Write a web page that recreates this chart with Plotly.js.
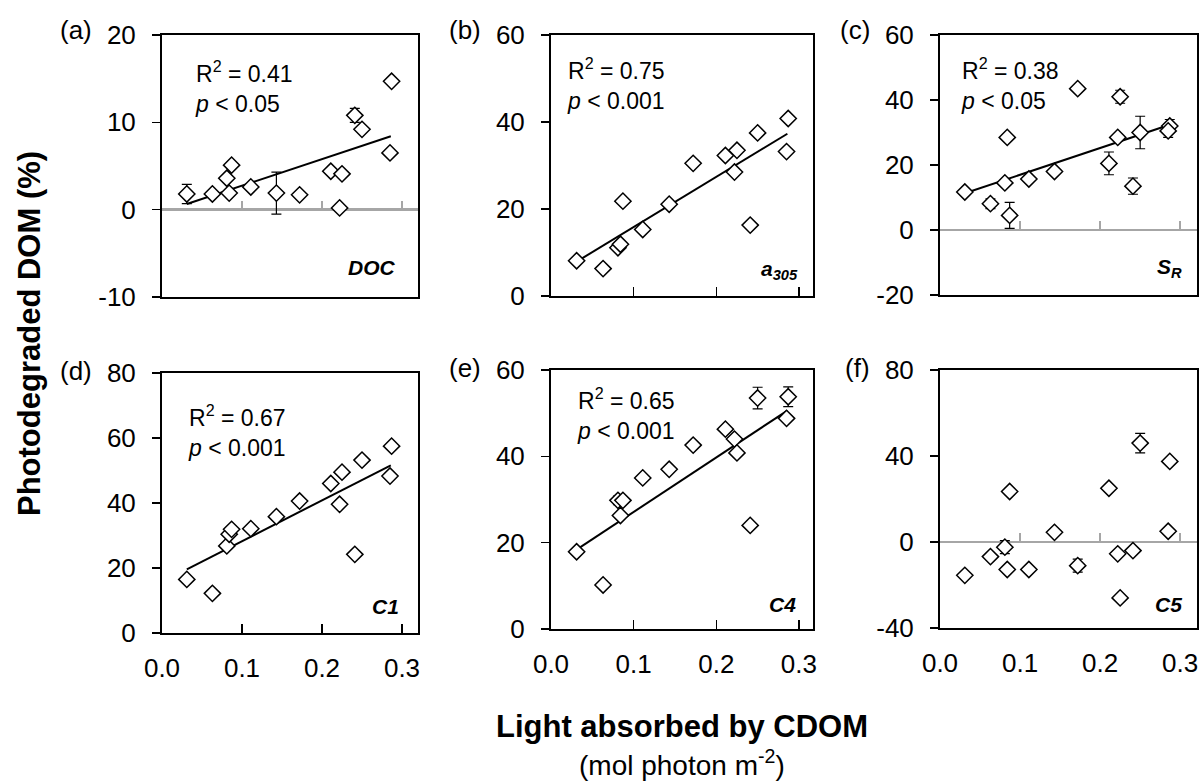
<!DOCTYPE html>
<html><head><meta charset="utf-8">
<script src="https://cdn.plot.ly/plotly-3.0.1.min.js"></script>
<style>html,body{margin:0;padding:0;background:#fff}#chart{width:1203px;height:784px}</style>
</head><body><div id="chart"></div>
<script>
// Light absorbed by CDOM (mol photon m-2), one value per sample
const xLight = [0.031, 0.063, 0.081, 0.084, 0.087, 0.111, 0.143, 0.172, 0.211, 0.222, 0.225, 0.241, 0.250, 0.287, 0.285];
// Photodegraded DOM (%) for each parameter
const yDOC  = [1.8, 1.8, 3.6, 1.9, 5.1, 2.6, 1.9, 1.7, 4.4, 0.2, 4.1, 10.8, 9.2, 14.7, 6.5];
const errDOC = [1.1, 0, 0, 0, 0, 0, 2.4, 0, 0, 0, 0, 0.8, 0, 0, 0];
const yA305 = [8.1, 6.3, 11.1, 11.9, 21.8, 15.3, 21.1, 30.5, 32.3, 28.5, 33.5, 16.3, 37.5, 40.8, 33.2];
const errA305 = [0, 0, 0, 0, 0, 0, 0, 0, 0, 0, 0, 0, 0, 0, 0];
const ySR   = [11.7, 8.1, 14.5, 28.5, 4.5, 15.7, 18.0, 43.5, 20.5, 28.5, 41.0, 13.5, 30.0, 32.0, 30.5];
const errSR = [0, 1.5, 0, 0, 4.0, 0, 0, 0, 3.5, 0, 2.0, 2.5, 5.0, 2.0, 2.0];
const yC1   = [16.5, 12.2, 26.8, 30.4, 31.9, 32.1, 35.8, 40.6, 46.0, 39.6, 49.5, 24.2, 53.2, 57.5, 48.3];
const errC1 = [0, 0, 0, 0, 0, 0, 0, 0, 0, 0, 0, 0, 0, 0, 0];
const yC4   = [17.9, 10.2, 29.8, 26.3, 29.8, 35.0, 37.0, 42.6, 46.3, 44.0, 40.8, 24.0, 53.5, 53.8, 48.8];
const errC4 = [0, 0, 1.0, 0, 0, 0, 0, 0, 0, 0, 0, 0, 2.5, 2.3, 0];
const yC5   = [-15.5, -6.8, -2.4, -12.8, 23.5, -12.8, 4.5, -11.0, 25.0, -5.5, -26.0, -4.0, 46.0, 37.5, 5.0];
const errC5 = [0, 0, 3.0, 0, 1.5, 0, 0, 3.0, 0, 0, 0, 0, 4.5, 0, 0];
// Regression line end points
const trendX = [0.031, 0.286];
const trendDOC = [0.65, 8.4];
const trendA305 = [7.9, 37.3];
const trendSR = [11.3, 32.3];
const trendC1 = [19.6, 51.6];
const trendC4 = [18.4, 50.6];
// Axis ticks and labels
const xTicks = [0, 0.1, 0.2, 0.3];
const xTickLabels = ['0.0', '0.1', '0.2', '0.3'];
const yTicksDOC = [-10, 0, 10, 20];
const yTicksA305 = [0, 20, 40, 60];
const yTicksSR = [-20, 0, 20, 40, 60];
const yTicksC1 = [0, 20, 40, 60, 80];
const yTicksC4 = [0, 20, 40, 60];
const yTicksC5 = [-40, 0, 40, 80];
const yRanges = [[-10, 20], [0, 60], [-20, 60], [0, 80], [0, 60], [-40, 80]];
// Text
const letters = ['(a)', '(b)', '(c)', '(d)', '(e)', '(f)'];
const names = ['<b><i>DOC</i></b>', '<b><i>a</i></b><sub><b><i>305</i></b></sub>', '<b><i>S</i></b><sub><b><i>R</i></b></sub>', '<b><i>C1</i></b>', '<b><i>C4</i></b>', '<b><i>C5</i></b>'];
const r2 = ['0.41', '0.75', '0.38', '0.67', '0.65', null];
const pv = ['0.05', '0.001', '0.05', '0.001', '0.001', null];

const W = 1203, H = 784;
const FONT = '"Liberation Sans", Arial, sans-serif';
const ys = [yDOC, yA305, ySR, yC1, yC4, yC5];
const errs = [errDOC, errA305, errSR, errC1, errC4, errC5];
const trends = [trendDOC, trendA305, trendSR, trendC1, trendC4, null];
const yTicks = [yTicksDOC, yTicksA305, yTicksSR, yTicksC1, yTicksC4, yTicksC5];
// layout geometry (pixels): [left, right, top, bottom]
const boxes = [[162, 418, 35, 297], [551, 813, 35, 296], [940, 1197, 35, 295],
               [162, 418, 373, 633], [551, 813, 370, 629], [940, 1197, 370, 628]];
const xRanges = [[0, 0.32], [0, 0.317], [0, 0.321], [0, 0.32], [0, 0.317], [0, 0.321]];
const statPos = [[193, 87], [565, 84], [959, 84], [186, 431], [575, 414], null];
const namePos = [[398, 267], [800, 270], [1184, 268], [401, 606], [798, 604], [1184, 604]];

const data = [];
const layout = {
  width: W, height: H, margin: {l: 0, r: 0, t: 0, b: 0},
  paper_bgcolor: '#fff', plot_bgcolor: 'rgba(0,0,0,0)', showlegend: false,
  font: {family: FONT, color: '#000', size: 24},
  annotations: []
};
let overlayId = 7;
for (let i = 0; i < 6; i++) {
  const xid = i === 0 ? 'x' : 'x' + (i + 1);
  const yid = i === 0 ? 'y' : 'y' + (i + 1);
  const xk = i === 0 ? 'xaxis' : 'xaxis' + (i + 1);
  const yk = i === 0 ? 'yaxis' : 'yaxis' + (i + 1);
  const b = boxes[i];
  const xd = [b[0] / W, b[1] / W];
  const yd = [1 - b[3] / H, 1 - b[2] / H];
  const yr = yRanges[i];
  const crosses = yr[0] < 0;
  const bottom = i >= 3;
  layout[xk] = {
    domain: xd, range: xRanges[i], anchor: yid,
    showline: true, mirror: true, linecolor: '#000', linewidth: 2,
    showgrid: false, zeroline: false,
    ticks: crosses ? '' : 'inside', ticklen: 9, tickwidth: 1.5, tickcolor: '#000',
    tickmode: 'array', tickvals: xTicks, ticktext: xTickLabels,
    showticklabels: bottom, tickfont: {size: 26, family: FONT, color: '#000'},
    ticklabelstandoff: 11
  };
  layout[yk] = {
    domain: yd, range: yr, anchor: xid,
    showline: true, mirror: true, linecolor: '#000', linewidth: 2,
    showgrid: false, zeroline: crosses, zerolinecolor: '#a6a6a6', zerolinewidth: 2.5,
    ticks: 'outside', ticklen: 8, tickwidth: 1.5, tickcolor: '#000',
    tickmode: 'array', tickvals: yTicks[i], ticktext: yTicks[i].map(v => String(v)),
    tickfont: {size: 26, family: FONT, color: '#000'},
    ticklabelstandoff: 11
  };
  if (trends[i]) {
    data.push({x: trendX, y: trends[i], xaxis: xid, yaxis: yid, mode: 'lines',
      line: {color: '#000', width: 2}, hoverinfo: 'skip'});
  }
  data.push({x: xLight, y: ys[i], xaxis: xid, yaxis: yid, mode: 'markers',
    marker: {symbol: 'diamond', size: 12.5, color: '#fff', line: {color: '#000', width: 1.5}},
    error_y: {type: 'data', array: errs[i], visible: true, color: '#000', thickness: 1.2, width: 5}});
  if (crosses) {
    const oid = 'x' + overlayId;
    const ok = 'xaxis' + overlayId;
    overlayId++;
    const pos = yd[0] + (0 - yr[0]) / (yr[1] - yr[0]) * (yd[1] - yd[0]);
    layout[ok] = {
      overlaying: xid, anchor: 'free', position: pos, domain: xd, range: xRanges[i],
      showline: false, showgrid: false, zeroline: false,
      ticks: 'inside', ticklen: 9, tickwidth: 2, tickcolor: '#a6a6a6',
      tickmode: 'array', tickvals: xTicks, showticklabels: false
    };
    data.push({x: xLight, y: ys[i], xaxis: oid, yaxis: yid, mode: 'markers',
      marker: {opacity: 0, size: 1}, hoverinfo: 'skip'});
  }
  // panel letter
  layout.annotations.push({xref: 'paper', yref: 'paper', x: (b[0] - 68) / W, y: 1 - (b[2] - (i < 3 ? 5 : 2)) / H,
    xanchor: 'right', yanchor: 'middle', text: letters[i], showarrow: false,
    font: {size: 26, family: FONT, color: '#000'}});
  // name
  layout.annotations.push({xref: 'paper', yref: 'paper', x: namePos[i][0] / W, y: 1 - namePos[i][1] / H,
    xanchor: 'right', yanchor: 'middle', text: names[i], showarrow: false,
    font: {size: 21, family: FONT, color: '#000'}});
  if (r2[i]) {
    layout.annotations.push({xref: 'paper', yref: 'paper', x: statPos[i][0] / W, y: 1 - statPos[i][1] / H,
      xanchor: 'left', yanchor: 'middle', align: 'left', showarrow: false,
      text: 'R<sup>2</sup> = ' + r2[i] + '<br><i>p</i> &lt; ' + pv[i],
      font: {size: 23, family: FONT, color: '#000'}});
  }
}
layout.annotations.push({xref: 'paper', yref: 'paper', x: 682 / W, y: 1 - 726 / H,
  xanchor: 'center', yanchor: 'middle', showarrow: false,
  text: '<b>Light absorbed by CDOM</b>', font: {size: 31, family: FONT, color: '#000'}});
layout.annotations.push({xref: 'paper', yref: 'paper', x: 682 / W, y: 1 - 763 / H,
  xanchor: 'center', yanchor: 'middle', showarrow: false,
  text: '(mol photon m<sup>-2</sup>)', font: {size: 28, family: FONT, color: '#000'}});
layout.annotations.push({xref: 'paper', yref: 'paper', x: 30 / W, y: 1 - 334 / H,
  xanchor: 'center', yanchor: 'middle', showarrow: false, textangle: -90,
  text: '<b>Photodegraded DOM (%)</b>', font: {size: 31, family: FONT, color: '#000'}});

Plotly.newPlot('chart', data, layout, {staticPlot: true, displayModeBar: false});
</script></body></html>
